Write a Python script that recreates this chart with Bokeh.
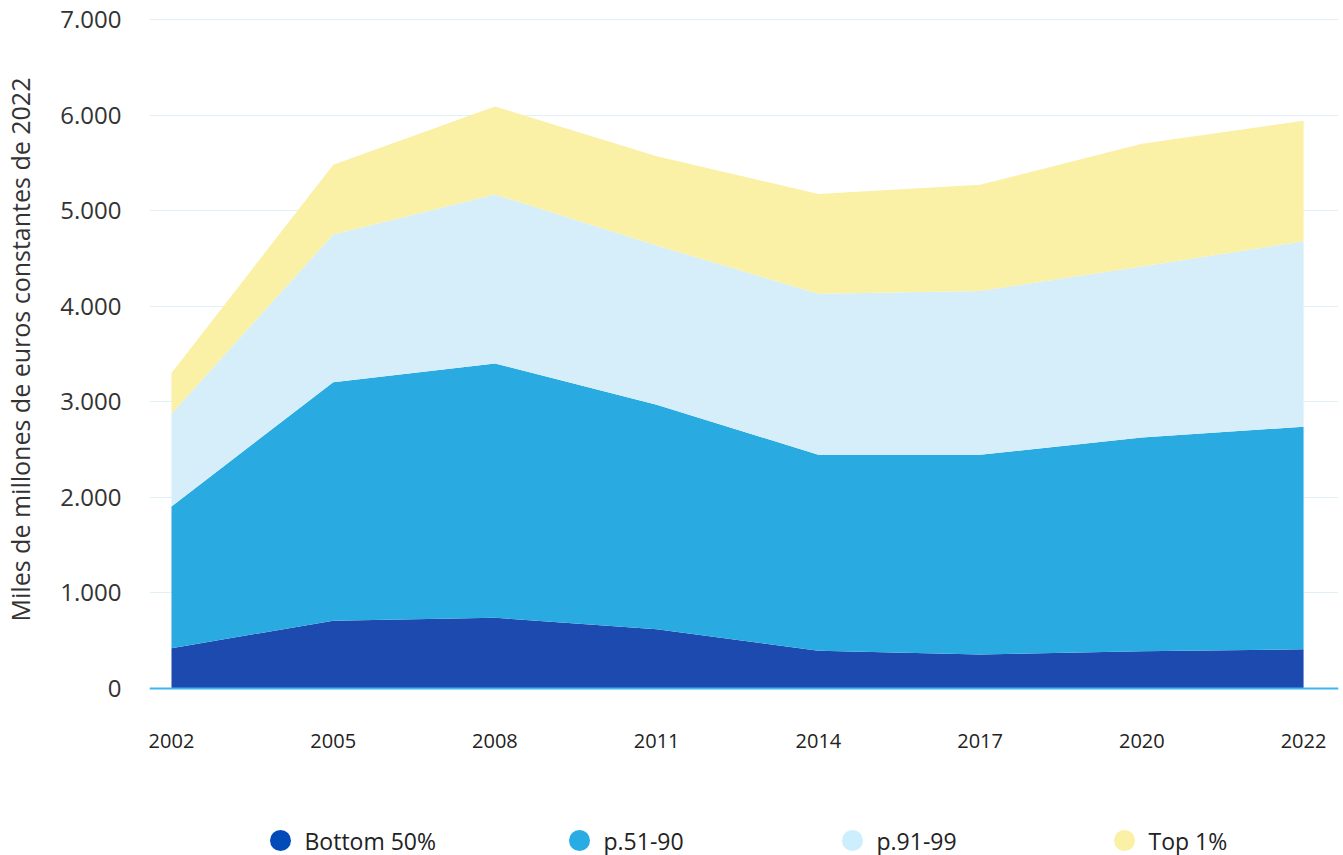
from bokeh.plotting import figure
from bokeh.models import ColumnDataSource, Range1d, FixedTicker, Span
from bokeh.embed import file_html
from bokeh.resources import INLINE
from bokeh.core.properties import value

# ---------------- data ----------------
years = ["2002", "2005", "2008", "2011", "2014", "2017", "2020", "2022"]
bottom50 = [420, 710, 740, 620, 395, 355, 390, 410]
p51_90 = [1485, 2495, 2660, 2350, 2050, 2090, 2235, 2330]
p91_99 = [970, 1545, 1770, 1665, 1685, 1715, 1790, 1940]
top1 = [425, 730, 920, 935, 1045, 1110, 1285, 1260]
series_names = ["Bottom 50%", "p.51-90", "p.91-99", "Top 1%"]
area_colors = ["#1d4aaf", "#29abe2", "#d5eefa", "#faf0a6"]
legend_colors = ["#004bb8", "#29ace3", "#cdeefd", "#faf0a6"]
y_ticks = [0, 1000, 2000, 3000, 4000, 5000, 6000, 7000]
y_tick_labels = ["0", "1.000", "2.000", "3.000", "4.000", "5.000", "6.000", "7.000"]
y_title = "Miles de millones de euros constantes de 2022"

FONT = "Open Sans"

src = ColumnDataSource(dict(
    x=list(range(len(years))),
    b=bottom50, m=p51_90, l=p91_99, t=top1,
))

p = figure(width=1343, height=780,
           x_range=Range1d(-0.136, 7.216), y_range=Range1d(-21, 7115),
           output_backend="svg", toolbar_location=None,
           min_border_left=148, min_border_right=5,
           min_border_top=8, min_border_bottom=90)
p.outline_line_color = None
p.background_fill_color = "white"
p.border_fill_color = "white"

p.varea_stack(stackers=["b", "m", "l", "t"], x="x", color=area_colors, source=src)

p.add_layout(Span(location=0, dimension="width", line_color="#3db5ef", line_width=2))

p.xgrid.visible = False
p.ygrid.grid_line_color = "#e2f1f8"
p.ygrid.grid_line_width = 1
p.ygrid.level = "underlay"

# y axis
p.yaxis.ticker = FixedTicker(ticks=y_ticks)
p.yaxis.major_label_overrides = {t: lab for t, lab in zip(y_ticks, y_tick_labels)}
p.yaxis.axis_line_color = None
p.yaxis.major_tick_line_color = None
p.yaxis.minor_tick_line_color = None
p.yaxis.major_tick_out = 0
p.yaxis.major_tick_in = 0
p.yaxis.major_label_standoff = 28
p.yaxis.major_label_text_align = "right"
p.yaxis.major_label_text_font = FONT
p.yaxis.major_label_text_font_size = "24px"
p.yaxis.major_label_text_color = "#333333"
p.yaxis.axis_label = y_title
p.yaxis.axis_label_text_font = FONT
p.yaxis.axis_label_text_font_size = "25px"
p.yaxis.axis_label_text_font_style = "normal"
p.yaxis.axis_label_text_color = "#333333"
p.yaxis.axis_label_standoff = 20

# x axis
p.xaxis.ticker = FixedTicker(ticks=list(range(len(years))))
p.xaxis.major_label_overrides = {i: y for i, y in enumerate(years)}
p.xaxis.axis_line_color = None
p.xaxis.major_tick_line_color = None
p.xaxis.minor_tick_line_color = None
p.xaxis.major_tick_out = 0
p.xaxis.major_tick_in = 0
p.xaxis.major_label_standoff = 43
p.xaxis.major_label_text_font = FONT
p.xaxis.major_label_text_font_size = "20px"
p.xaxis.major_label_text_color = "#222222"

# ---------------- legend row ----------------
lg = figure(width=1343, height=75,
            x_range=Range1d(0, 1343), y_range=Range1d(75, 0),
            output_backend="svg", toolbar_location=None,
            x_axis_location=None, y_axis_location=None, min_border=0)
lg.outline_line_color = None
lg.xgrid.visible = False
lg.ygrid.visible = False

dot_x = [280, 579, 852, 1124]
row_y = [60] * len(series_names)
lg.scatter(x=dot_x, y=row_y, size=21, color=legend_colors, line_color=None)
lg.text(x=[d + 24 for d in dot_x], y=row_y, text=series_names,
        text_baseline="middle", text_align="left",
        text_font=value(FONT), text_font_size="23px", text_color="#222222")

open("out.html", "w").write(file_html([p, lg], INLINE))
